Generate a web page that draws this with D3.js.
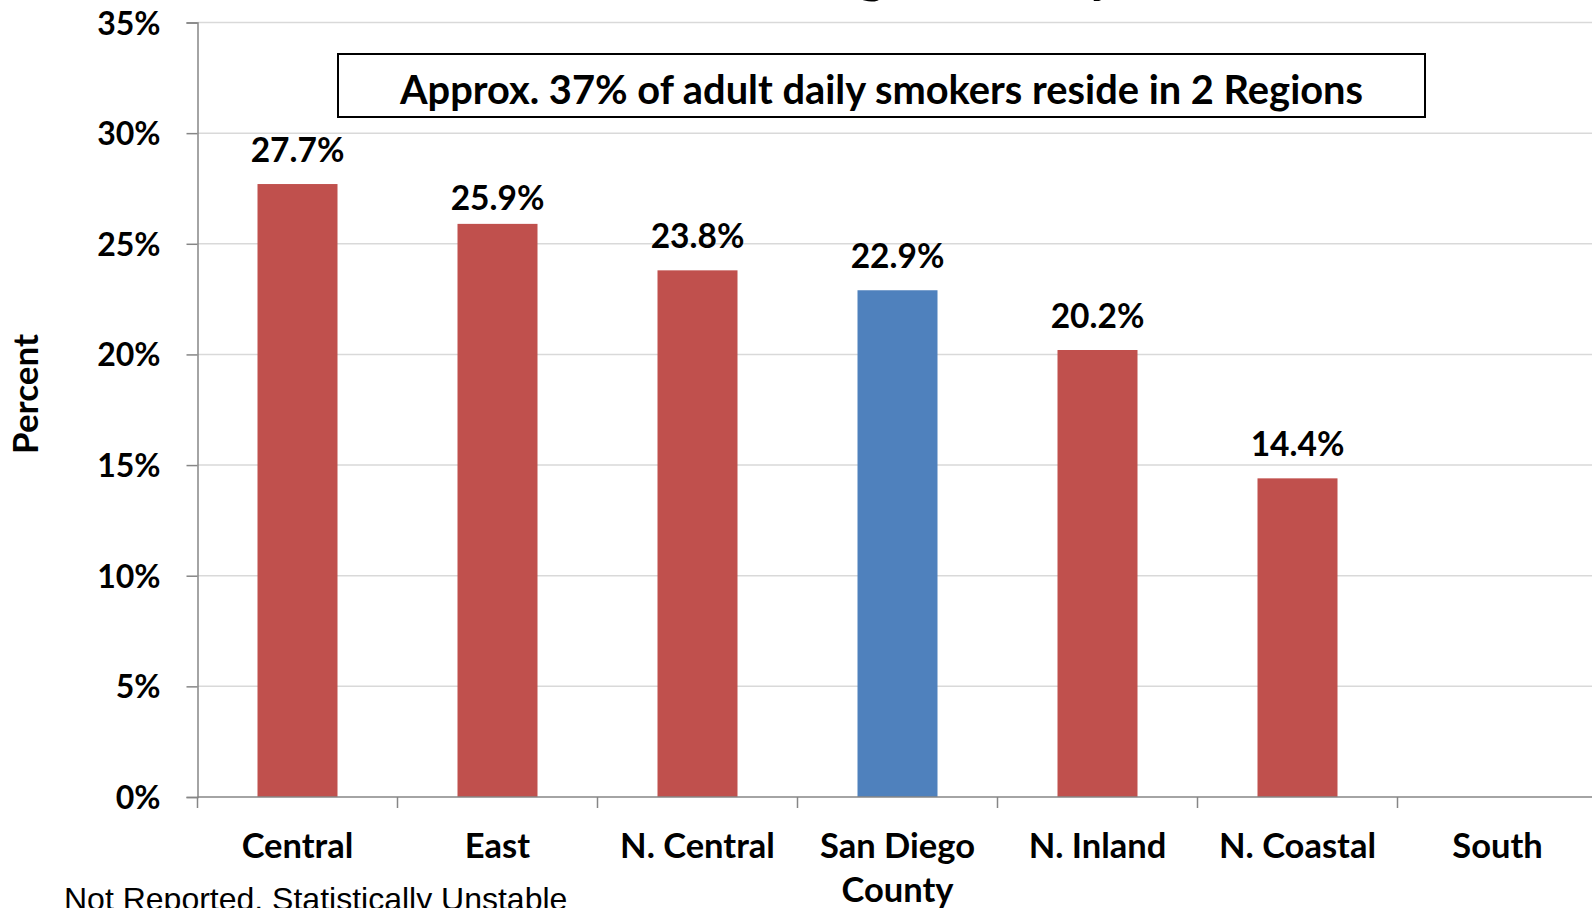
<!DOCTYPE html>
<html><head><meta charset="utf-8">
<script src="https://cdn.jsdelivr.net/npm/d3@7"></script>
<style>
html,body{margin:0;padding:0;background:#fff;overflow:hidden;}
svg{display:block;}
</style></head>
<body>
<svg id="chart" width="1592" height="908"></svg>
<script>
const categories = ["Central","East","N. Central","San Diego County","N. Inland","N. Coastal","South"];
const values = [27.7, 25.9, 23.8, 22.9, 20.2, 14.4, null];
const highlight = ["San Diego County"];
const yTicks = [0,5,10,15,20,25,30,35];
const titleText = "San Diego County, 2012";
const annotation = "Approx. 37% of adult daily smokers reside in 2 Regions";
const yAxisTitle = "Percent";
const footnote = "Not Reported, Statistically Unstable";

(function(){
const svg = d3.select("#chart");
const W = 1592, H = 908;
const pLeft = 197.5, pRight = 1597.5, pTop = 22.5, pBottom = 797;
const BOLD = "Lato, 'Open Sans', sans-serif";
const labelNudge = {"East": 8};

const x = d3.scaleBand().domain(categories).range([pLeft, pRight]).paddingInner(0.6).paddingOuter(0.3);
const y = d3.scaleLinear().domain([0,35]).range([pBottom, pTop]);

function boldText(sel, size){
  return sel.style("font-family", BOLD).style("font-weight", 700).style("font-size", size+"px").attr("fill","#000");
}

// gridlines
svg.append("g").selectAll("line").data(yTicks.filter(d=>d>0)).join("line")
  .attr("x1", pLeft).attr("x2", W).attr("y1", d=>y(d)).attr("y2", d=>y(d))
  .attr("stroke", "#d9d9d9").attr("stroke-width", 1.5);

// y axis
const yAxis = d3.axisLeft(y).tickValues(yTicks).tickFormat(d=>d+"%").tickSize(11).tickPadding(26);
const gy = svg.append("g").attr("transform", `translate(${pLeft},0)`).call(yAxis);
gy.select(".domain").attr("stroke","#868686").attr("stroke-width",1.5);
gy.selectAll(".tick line").attr("stroke","#868686").attr("stroke-width",1.5);
boldText(gy.selectAll(".tick text"), 32).attr("dy","0.36em");

const rows = categories.map((c,i)=>({c, v: values[i]})).filter(d=>d.v!=null);

// bars
svg.append("g").selectAll("rect").data(rows).join("rect")
  .attr("x", d=>x(d.c)).attr("width", x.bandwidth())
  .attr("y", d=>y(d.v)).attr("height", d=>y(0)-y(d.v))
  .attr("fill", d=>highlight.includes(d.c) ? "#4F81BD" : "#C0504D");

// data labels
boldText(svg.append("g").selectAll("text").data(rows).join("text")
  .attr("x", d=>x(d.c)+x.bandwidth()/2).attr("y", d=>y(d.v)-22+(labelNudge[d.c]||0))
  .attr("text-anchor","middle")
  .text(d=>d.v.toFixed(1)+"%"), 33.5);

// x axis
const step = x.step();
const boundaries = categories.map(c => x(c) - x.paddingInner()*step/2);
svg.append("line").attr("x1", pLeft).attr("x2", W).attr("y1", pBottom).attr("y2", pBottom)
  .attr("stroke","#868686").attr("stroke-width",1.5);
svg.append("g").selectAll("line").data(boundaries).join("line")
  .attr("x1", d=>d).attr("x2", d=>d).attr("y1", pBottom).attr("y2", pBottom+11)
  .attr("stroke","#868686").attr("stroke-width",1.5);

// category labels
const catG = svg.append("g");
categories.forEach(c => {
  const cx = x(c) + x.bandwidth()/2;
  const lines = c === "San Diego County" ? ["San Diego","County"] : [c];
  const t = boldText(catG.append("text").attr("x", cx).attr("y", 858).attr("text-anchor","middle"), 34.5);
  lines.forEach((l,i)=> t.append("tspan").attr("x", cx).attr("dy", i===0?0:44).text(l));
});

// annotation box
const ann = svg.append("g");
ann.append("rect").attr("x",338).attr("y",54).attr("width",1087).attr("height",63)
  .attr("fill","#fff").attr("stroke","#000").attr("stroke-width",2);
boldText(ann.append("text").attr("x", (338+1425)/2).attr("y", 104).attr("text-anchor","middle").text(annotation), 39.8);

// y axis title
boldText(svg.append("text").attr("transform","translate(38,394) rotate(-90)").attr("text-anchor","middle")
  .text(yAxisTitle), 35);

// title (mostly cropped above the frame)
const tt = boldText(svg.append("text").attr("y", -9).text(titleText), 42);
const gi = titleText.indexOf("g"), yi = titleText.indexOf("y");
const n = tt.node();
const d42 = n.getStartPositionOfChar(yi).x - n.getStartPositionOfChar(gi).x;
const size = 42 * 230 / d42;
tt.style("font-size", size+"px");
const gx = n.getStartPositionOfChar(gi).x;
tt.attr("x", 857 - gx);

// footnote
svg.append("text").attr("x",64).attr("y",910)
  .style("font-family","'Liberation Sans',Arial,sans-serif").style("font-weight",400).style("font-size","32px")
  .attr("fill","#000").text(footnote);
})();
</script>
</body></html>
